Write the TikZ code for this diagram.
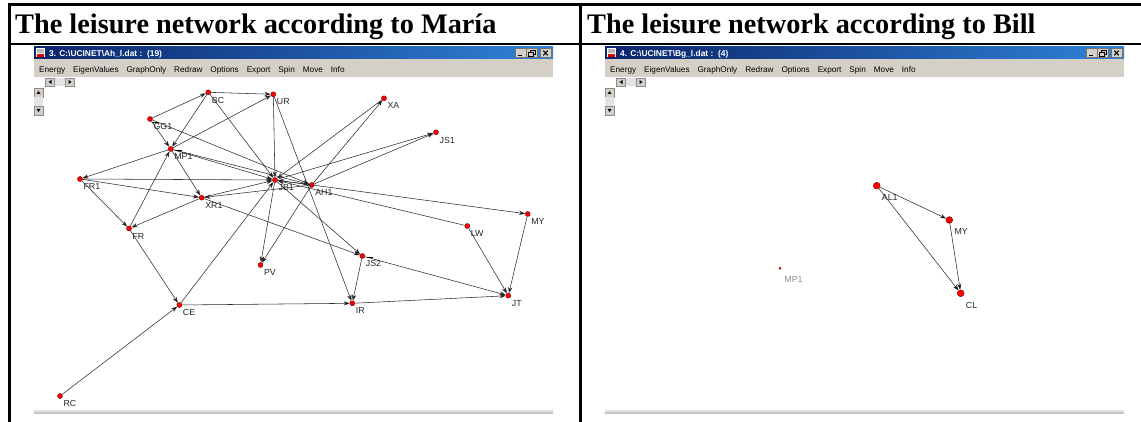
\documentclass[tikz,border=0pt]{standalone}
\usepackage{fontspec}
\setmainfont{Liberation Serif}
\setsansfont{Liberation Sans}
\usetikzlibrary{arrows.meta}

\definecolor{wingray}{RGB}{212,208,200}
\definecolor{tbleft}{RGB}{10,36,106}
\definecolor{tbright}{RGB}{48,130,215}
\definecolor{dotred}{RGB}{255,0,0}
\definecolor{linkgray}{RGB}{45,45,45}

\tikzset{
  ttl/.style={font=\bfseries\fontsize{28.3}{30}\selectfont, inner sep=0pt, anchor=base west},
  tbtext/.style={font=\sffamily\bfseries\fontsize{8.4}{10}\selectfont, text=white, inner sep=0pt, anchor=base west},
  menutext/.style={font=\sffamily\fontsize{8.2}{10}\selectfont, inner sep=0pt, anchor=base west},
  tbbtn/.style={fill=wingray, draw=black!55, line width=0.4pt},
  sbtn/.style={fill=wingray, draw=black!45, line width=0.4pt},
  checker/.style={fill=gray!22},
  dot/.style={circle, fill=dotred, draw=red!45!black, line width=0.4pt, inner sep=0pt, minimum size=5pt},
  bigdot/.style={dot, minimum size=6.8pt},
  tinydot/.style={dot, minimum size=2.6pt, line width=0.2pt},
  lab/.style={font=\sffamily\fontsize{8.8}{10}\selectfont, text=black!85, inner sep=0pt, xshift=1.5pt, yshift=-2.5pt},
  labbig/.style={lab, xshift=1pt, yshift=-3.5pt},
  labfaint/.style={lab, text=black!45, xshift=1.8pt, yshift=-4pt},
  link/.style={draw=linkgray, line width=0.55pt, -{Stealth[length=6pt,width=4.3pt,fill=black]}},
  loopbar/.style={draw=black, line width=0.8pt},
  frame/.style={draw=black, line width=3pt},
}

% window chrome: #1 name prefix, #2 caption
\newcommand\wchrome[2]{%
  \shade[left color=tbleft, right color=tbright] (34,47) rectangle (553,59.5);
  \fill[white] (35.5,48.5) rectangle (45,57.5);
  \fill[gray!55] (36.5,49.5) rectangle (44,53.5);
  \fill[red!85!black] (36.5,54) rectangle (44,56.8);
  \node[tbtext] (#1cap) at (49,56.5) {#2};
  \draw[tbbtn] (515,48.5) rectangle (526,57.5);
  \draw[tbbtn] (526,48.5) rectangle (537,57.5);
  \draw[tbbtn] (540,48.5) rectangle (551,57.5);
  \draw[line width=1.3pt] (517.5,55.3) -- (522,55.3);
  \draw[line width=0.5pt] (530.5,50.5) rectangle (535,54);
  \fill[wingray] (528.5,52.5) rectangle (533,56);
  \draw[line width=0.5pt] (528.5,52.5) rectangle (533,56);
  \draw[line width=1pt] (543.3,50.6) -- (547.7,55.4) (543.3,55.4) -- (547.7,50.6);
  \fill[wingray] (34,59.5) rectangle (553,77);
  \node[menutext] (#1menu) at (39,72.5) {Energy\hspace{8pt}EigenValues\hspace{8pt}GraphOnly\hspace{8pt}Redraw\hspace{8pt}Options\hspace{8pt}Export\hspace{8pt}Spin\hspace{8pt}Move\hspace{8pt}Info};
  % horizontal scroll arrows
  \draw[sbtn] (45.5,78) rectangle (54.5,86);
  \fill[checker] (54.5,78) rectangle (65.5,86);
  \draw[sbtn] (65.5,78) rectangle (74.5,86);
  \fill (48.5,82) -- (51.5,80) -- (51.5,84) -- cycle;
  \fill (71.5,82) -- (68.5,80) -- (68.5,84) -- cycle;
  % vertical scroll arrows
  \draw[sbtn] (34,88) rectangle (43,97);
  \fill[checker] (34,97) rectangle (43,106);
  \draw[sbtn] (34,106) rectangle (43,115);
  \fill (38.5,91) -- (36.5,94) -- (40.5,94) -- cycle;
  \fill (38.5,112) -- (36.5,109) -- (40.5,109) -- cycle;
  % lower edge of the canvas
  \shade[top color=gray!12, bottom color=gray!50] (34,409.5) rectangle (553,413);
}

\begin{document}
\begin{tikzpicture}[x=1pt,y=-1pt]
\useasboundingbox (0,0) rectangle (1141,422);
\fill[white] (0,0) rectangle (1141,422);

% headings
\node[ttl] (ttlA) at (15,34) {The leisure network according to María};
\node[ttl] (ttlB) at (587,34) {The leisure network according to Bill};

% the two program windows
\wchrome{A}{3. C:\textbackslash UCINET\textbackslash Ah\_l.dat :\ \ (19)}
\begin{scope}[shift={(571,0)}]
  \wchrome{B}{4. C:\textbackslash UCINET\textbackslash Bg\_l.dat :\ \ (4)}
\end{scope}

% ---- María's network ----
\node[dot, label={[lab]-45:BC}]  (BC)  at (208.3,92.3) {};
\node[dot, label={[lab]-45:UR}]  (UR)  at (273.3,94.3) {};
\node[dot, label={[lab]-45:GG1}] (GG1) at (150,119) {};
\node[dot, label={[lab]-45:MP1}] (MP1) at (170.7,149) {};
\node[dot, label={[lab]-45:FR1}] (FR1) at (80,179) {};
\node[dot, label={[lab]-45:JB1}] (JB1) at (275,180) {};
\node[dot, label={[lab]-45:XR1}] (XR1) at (201.7,197.7) {};
\node[dot, label={[lab]-45:FR}]  (FR)  at (129,228.5) {};
\node[dot, label={[lab]-45:XA}]  (XA)  at (384,98.3) {};
\node[dot, label={[lab]-45:JS1}] (JS1) at (436,132.3) {};
\node[dot, label={[lab]-45:AH1}] (AH1) at (311.7,185) {};
\node[dot, label={[lab]-45:MY}]  (MY)  at (527.7,214) {};
\node[dot, label={[lab]-45:LW}]  (LW)  at (467.3,226) {};
\node[dot, label={[lab]-45:PV}]  (PV)  at (260.5,265) {};
\node[dot, label={[lab]-45:CE}]  (CE)  at (179.3,305) {};
\node[dot, label={[lab]-45:RC}]  (RC)  at (60,396) {};
\node[dot, label={[lab]-45:JS2}] (JS2) at (362.3,256) {};
\node[dot, label={[lab]-45:IR}]  (IR)  at (352.3,303.3) {};
\node[dot, label={[lab]-45:JT}]  (JT)  at (508.3,295.7) {};

\draw[link] (GG1) -- (BC);
\draw[link] (BC) -- (UR);
\draw[link] (MP1) -- (UR);
\draw[link] (BC) -- (MP1);
\draw[link] (GG1) -- (MP1);
\draw[link] (GG1) -- (AH1);
\draw[link] (BC) -- (JB1);
\draw[link] (UR) -- (JB1);
\draw[link] (UR) -- (IR);
\draw[link] (MP1) -- (JB1);
\draw[link] (MP1) -- (AH1);
\draw[link] (MP1) -- (FR1);
\draw[link] (MP1) -- (XR1);
\draw[link] (FR1) -- (JB1);
\draw[link] (FR1) -- (XR1);
\draw[link] (FR1) -- (FR);
\draw[link] (FR) -- (MP1);
\draw[link] (XR1) -- (JB1);
\draw[link] (AH1) -- (XR1);
\draw[link] (XR1) -- (FR);
\draw[link] (XR1) -- (JS2);
\draw[link] (JS2) -- (JT);
\draw[link] (JS2) -- (IR);
\draw[link] (JB1) -- (JS2);
\draw[link] (JB1) -- (PV);
\draw[link] (AH1) -- (PV);
\draw[link] (CE) -- (JB1);
\draw[link] (CE) -- (IR);
\draw[link] (IR) -- (JT);
\draw[link] (LW) -- (JT);
\draw[link] (MY) -- (JT);
\draw[link] (JB1) -- (MY);
\draw[link] (LW) -- (JB1);
\draw[link] (AH1) -- (JB1);
\draw[link] (AH1) -- (XA);
\draw[link] (XA) -- (JB1);
\draw[link] (JB1) -- (JS1);
\draw[link] (AH1) -- (JS1);
\draw[link] (FR) -- (CE);
\draw[link] (RC) -- (CE);

% short reflexive marks
\draw[loopbar] ([xshift=1.5pt,yshift=-3.6pt]GG1.center) -- ++(7,0);
\draw[loopbar] ([xshift=5.3pt,yshift=-1pt]MP1.center) -- ++(6,0);
\draw[loopbar] ([xshift=4.4pt,yshift=-1.3pt]JS2.center) -- ++(6,0);

% ---- Bill's network ----
\node[bigdot, label={[labbig]-45:AL1}] (AL1) at (876.7,185.7) {};
\node[bigdot, label={[labbig]-45:MY}]  (MYb) at (949.3,220) {};
\node[bigdot, label={[labbig]-45:CL}]  (CL)  at (960.7,293.3) {};
\node[tinydot, label={[labfaint]-45:MP1}] (MP1b) at (780,268.3) {};

\draw[link] (AL1) -- (MYb);
\draw[link] (MYb) -- (CL);
\draw[link] (AL1) -- (CL);

% table rules
\draw[frame] (8,4.5) -- (1141,4.5);
\draw[frame, line width=2.6pt] (8,44) -- (1141,44);
\draw[frame] (9.3,3) -- (9.3,422);
\draw[frame] (580,3) -- (580,422);
\end{tikzpicture}
\end{document}
